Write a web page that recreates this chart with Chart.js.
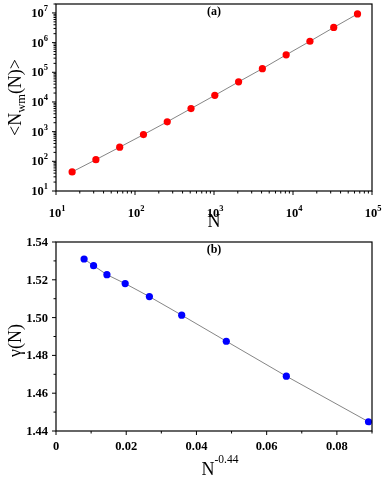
<!DOCTYPE html>
<html>
<head>
<meta charset="utf-8">
<script src="https://cdn.jsdelivr.net/npm/chart.js@4.4.1/dist/chart.umd.min.js"></script>
<style>
  body { margin: 0; background: #fff; }
  canvas { display: block; }
</style>
</head>
<body>
<canvas id="plot-a" width="382" height="230"></canvas>
<canvas id="plot-b" width="382" height="248"></canvas>
<script>
// (a) <N_wm(N)> vs N, log-log
var sizesN = [16, 32, 64, 128, 256, 512, 1024, 2048, 4096, 8192, 16384, 32768, 65536];
var meanNwm = [44, 114, 300, 794, 2150, 6000, 16700, 47600, 132500, 388000, 1110000, 3240000, 9260000];
var decadesX = [1, 2, 3, 4, 5];
var decadesY = [1, 2, 3, 4, 5, 6, 7];

// (b) gamma(N) vs N^-0.44
var nPow = [0.0080, 0.0107, 0.0145, 0.0197, 0.0266, 0.0358, 0.0485, 0.0656, 0.0890];
var gammaN = [1.5310, 1.5275, 1.5227, 1.5180, 1.5111, 1.5013, 1.4875, 1.4690, 1.4449];
var ticksXb = [0, 0.02, 0.04, 0.06, 0.08];
var ticksYb = [1.44, 1.46, 1.48, 1.50, 1.52, 1.54];

var SERIF = '"Liberation Serif", "Times New Roman", serif';

function toPoints(xs, ys) {
    return xs.map(function(x, i) { return { x: x, y: ys[i] }; });
}

// draw pieces of text [{t, size, bold, dy}] starting at x along baseline y
function richWidth(ctx, parts) {
    var w = 0;
    parts.forEach(function(p) {
        ctx.font = (p.bold ? 'bold ' : '') + p.size + 'px ' + SERIF;
        w += ctx.measureText(p.t).width;
    });
    return w;
}
function drawRich(ctx, parts, x, y, align) {
    var w = richWidth(ctx, parts);
    if (align === 'center') x -= w / 2;
    if (align === 'right') x -= w;
    ctx.textAlign = 'left';
    ctx.textBaseline = 'alphabetic';
    parts.forEach(function(p) {
        ctx.font = (p.bold ? 'bold ' : '') + p.size + 'px ' + SERIF;
        ctx.fillText(p.t, x, y + (p.dy || 0));
        x += ctx.measureText(p.t).width;
    });
}
function pow10(e) {
    return [{ t: '10', size: 12.5, bold: true }, { t: String(e), size: 8.5, bold: true, dy: -6 }];
}

function frame(ctx, a) {
    ctx.strokeStyle = '#000';
    ctx.lineWidth = 1.2;
    ctx.strokeRect(a.left, a.top, a.right - a.left, a.bottom - a.top);
}
function xTick(ctx, a, px, len) {
    ctx.beginPath();
    ctx.moveTo(px, a.bottom);
    ctx.lineTo(px, a.bottom + len);
    ctx.stroke();
}
function yTick(ctx, a, py, len) {
    ctx.beginPath();
    ctx.moveTo(a.left, py);
    ctx.lineTo(a.left - len, py);
    ctx.stroke();
}

var axesA = {
    id: 'axesA',
    afterDraw: function(chart) {
        var ctx = chart.ctx, a = chart.chartArea;
        var sx = chart.scales.x, sy = chart.scales.y;
        ctx.save();
        ctx.fillStyle = '#000';
        frame(ctx, a);
        ctx.lineWidth = 1;
        decadesX.forEach(function(e) {
            var v = Math.pow(10, e);
            xTick(ctx, a, sx.getPixelForValue(v), 4);
            if (e < 5) {
                for (var m = 2; m < 10; m++) xTick(ctx, a, sx.getPixelForValue(m * v), 2.5);
            }
            drawRich(ctx, pow10(e), sx.getPixelForValue(v) + 1, 217, 'center');
        });
        decadesY.forEach(function(e) {
            var v = Math.pow(10, e);
            yTick(ctx, a, sy.getPixelForValue(v), 4);
            for (var m = 2; m < 10; m++) {
                if (m * v <= sy.max) yTick(ctx, a, sy.getPixelForValue(m * v), 2.5);
            }
            drawRich(ctx, pow10(e), 48, sy.getPixelForValue(v) + 4, 'right');
        });
        // axis titles
        drawRich(ctx, [{ t: 'N', size: 18 }], (a.left + a.right) / 2, 227, 'center');
        ctx.save();
        ctx.translate(21, (a.top + a.bottom) / 2);
        ctx.rotate(-Math.PI / 2);
        drawRich(ctx, [{ t: '<N', size: 18 }, { t: 'wm', size: 12.5, dy: 4 }, { t: '(N)>', size: 18 }], 0, 0, 'center');
        ctx.restore();
        drawRich(ctx, [{ t: '(a)', size: 12, bold: true }], 214, 15, 'center');
        ctx.restore();
    }
};

var axesB = {
    id: 'axesB',
    afterDraw: function(chart) {
        var ctx = chart.ctx, a = chart.chartArea;
        var sx = chart.scales.x, sy = chart.scales.y;
        ctx.save();
        ctx.fillStyle = '#000';
        frame(ctx, a);
        ctx.lineWidth = 1;
        ticksXb.forEach(function(v) {
            var px = sx.getPixelForValue(v);
            xTick(ctx, a, px, 4);
            xTick(ctx, a, sx.getPixelForValue(v + 0.01), 2.5);
            drawRich(ctx, [{ t: v === 0 ? '0' : v.toFixed(2), size: 12.5, bold: true }], px, 220, 'center');
        });
        ticksYb.forEach(function(v) {
            var py = sy.getPixelForValue(v);
            yTick(ctx, a, py, 4);
            if (v < 1.54) yTick(ctx, a, sy.getPixelForValue(v + 0.01), 2.5);
            drawRich(ctx, [{ t: v.toFixed(2), size: 12.5, bold: true }], 48, py + 4, 'right');
        });
        drawRich(ctx, [{ t: 'N', size: 18 }, { t: '-0.44', size: 11.5, dy: -12 }], (a.left + a.right) / 2 + 6, 245, 'center');
        ctx.save();
        ctx.translate(21, (a.top + a.bottom) / 2 + 4);
        ctx.rotate(-Math.PI / 2);
        drawRich(ctx, [{ t: 'γ(N)', size: 18 }], 0, 0, 'center');
        ctx.restore();
        drawRich(ctx, [{ t: '(b)', size: 12, bold: true }], 214, 23, 'center');
        ctx.restore();
    }
};

function baseOptions(pad) {
    return {
        responsive: false,
        animation: false,
        layout: { padding: pad },
        plugins: { legend: { display: false }, tooltip: { enabled: false } },
        scales: {}
    };
}

var optsA = baseOptions({ left: 56, right: 10, top: 2, bottom: 39 });
optsA.scales = {
    x: { type: 'logarithmic', min: 10, max: 100000, display: false },
    y: { type: 'logarithmic', min: 10, max: 20000000, display: false }
};

new Chart(document.getElementById('plot-a'), {
    type: 'scatter',
    data: {
        datasets: [{
            data: toPoints(sizesN, meanNwm),
            showLine: true,
            borderColor: '#666666',
            borderWidth: 0.8,
            pointRadius: 3.6,
            pointBackgroundColor: '#ff0000',
            pointBorderWidth: 0
        }]
    },
    options: optsA,
    plugins: [axesA]
});

var optsB = baseOptions({ left: 56, right: 10, top: 12, bottom: 47 });
optsB.scales = {
    x: { type: 'linear', min: 0, max: 0.09, display: false },
    y: { type: 'linear', min: 1.44, max: 1.54, display: false }
};

new Chart(document.getElementById('plot-b'), {
    type: 'scatter',
    data: {
        datasets: [{
            data: toPoints(nPow, gammaN),
            showLine: true,
            borderColor: '#666666',
            borderWidth: 0.8,
            pointRadius: 3.6,
            pointBackgroundColor: '#0000ff',
            pointBorderWidth: 0
        }]
    },
    options: optsB,
    plugins: [axesB]
});
</script>
</body>
</html>
